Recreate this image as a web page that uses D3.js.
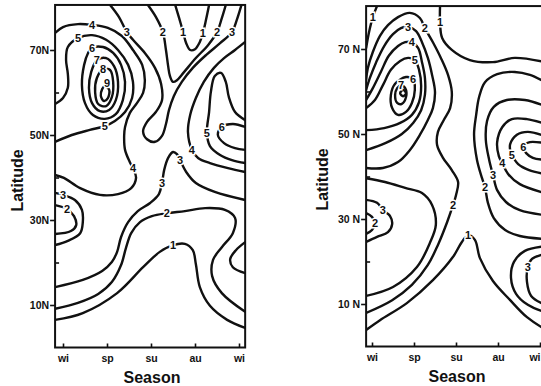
<!DOCTYPE html>
<html>
<head>
<meta charset="utf-8">
<script src="https://cdn.jsdelivr.net/npm/d3@7"></script>
<style>
  body { margin: 0; background: #fff; }
  svg { display: block; font-family: "Liberation Sans", Arial, sans-serif; }
</style>
</head>
<body>
<svg id="chart" width="541" height="386"></svg>
<script>
// axis categories / ticks
const seasons = ['wi', 'sp', 'su', 'au', 'wi'];
const latMajor = [10, 30, 50, 70];
const latMinor = [20, 40, 60];

// contour lines: points are [season (wi=0 .. wi=4), latitude]
const leftContours = [
  {v: 4, pts: [[-0.18,74.0],[0,75.4],[0.34,76.1],[0.66,75.9],[1.02,75.2],[1.34,73.3],[1.59,70.0],[1.80,66.5],[1.86,62.9],[1.82,59.9],[1.68,57.5],[1.52,55.2],[1.41,51.9],[1.39,49.8],[1.41,46.5],[1.52,43.6],[1.59,42.2],[1.66,39.9],[1.55,37.5],[1.25,36.1],[0.84,35.9],[0.39,37.5],[0.02,39.9],[-0.18,40.6]]},
  {v: 5, pts: [[-0.18,57.3],[0,58.7],[0.11,61.1],[0.11,64.4],[0.07,67.6],[0.11,70.7],[0.34,72.8],[0.66,73.5],[0.98,72.4],[1.25,70.0],[1.48,66.5],[1.59,62.5],[1.57,58.7],[1.41,55.4],[1.18,53.3],[0.95,52.1],[0.61,51.2],[0.20,50.0],[-0.18,48.4]]},
  {v: 6, closed: true, pts: [[0.66,70.5],[0.91,70.7],[1.14,69.3],[1.32,66.5],[1.41,62.5],[1.36,58.2],[1.20,54.9],[0.95,53.8],[0.68,54.7],[0.50,57.5],[0.43,61.8],[0.48,66.5],[0.57,69.3]]},
  {v: 7, closed: true, pts: [[0.77,67.6],[0.98,68.1],[1.16,66.2],[1.25,62.5],[1.20,58.2],[1.05,55.9],[0.84,55.6],[0.66,57.5],[0.59,61.1],[0.64,64.8]]},
  {v: 8, closed: true, pts: [[0.91,65.5],[1.07,65.3],[1.14,62.5],[1.11,58.9],[0.98,56.8],[0.80,57.3],[0.73,60.1],[0.77,63.4]]},
  {v: 9, closed: true, pts: [[0.95,61.5],[1.05,60.6],[1.02,58.7],[0.93,58.0],[0.86,59.2],[0.89,60.8]]},
  {v: 3, pts: [[1.07,80.6],[1.27,77.8],[1.45,74.2],[1.59,72.4],[1.86,69.3],[2.09,65.8],[2.23,62.0],[2.25,58.2],[2.11,55.4],[1.91,53.1],[1.82,50.9],[1.91,49.0],[2.09,48.4],[2.25,49.8],[2.34,52.6],[2.41,55.9],[2.52,59.2],[2.70,62.5],[2.95,65.8],[3.25,68.8],[3.57,71.6],[3.84,74.2],[3.95,77.1],[4.05,80.4]]},
  {v: 2, pts: [[1.93,80.6],[2.11,77.8],[2.27,74.2],[2.34,70.0],[2.39,66.2],[2.43,63.9],[2.50,62.5],[2.59,62.9],[2.75,64.8],[3.02,68.1],[3.30,71.2],[3.50,74.2],[3.61,77.5],[3.70,80.6]]},
  {v: 1, pts: [[2.55,80.6],[2.64,77.5],[2.73,74.2],[2.80,71.6],[2.89,70.0],[3.00,70.2],[3.11,71.9],[3.18,74.0],[3.25,77.1],[3.32,80.6]]},
  {v: 4, pts: [[4.14,71.9],[3.91,70.0],[3.66,68.1],[3.43,65.8],[3.20,62.5],[3.02,58.7],[2.89,54.7],[2.84,50.7],[2.93,46.5],[3.07,44.6],[3.34,43.4],[3.75,42.2],[4.14,41.3]]},
  {v: 5, pts: [[4.14,53.5],[3.91,55.4],[3.77,58.9],[3.70,62.5],[3.59,64.6],[3.45,63.9],[3.36,60.1],[3.32,55.4],[3.27,50.5],[3.34,47.4],[3.57,45.3],[3.84,44.1],[4.14,43.4]]},
  {v: 6, pts: [[4.14,51.9],[3.86,52.6],[3.61,51.9],[3.52,50.0],[3.66,48.1],[3.91,46.9],[4.14,46.5]]},
  {v: 3, pts: [[-0.18,14.2],[0.45,15.9],[0.89,18.0],[1.11,20.1],[1.23,22.5],[1.32,26.0],[1.48,29.5],[1.70,32.1],[1.98,34.0],[2.18,36.1],[2.25,38.7],[2.30,41.8],[2.39,44.6],[2.50,46.0],[2.59,45.5],[2.66,44.1],[2.80,41.3],[3.02,38.7],[3.45,36.6],[4.14,34.7]]},
  {v: 2, pts: [[-0.18,9.1],[0.34,10.5],[0.80,12.6],[1.11,15.4],[1.32,19.4],[1.43,23.4],[1.55,26.9],[1.75,29.5],[2.02,30.9],[2.36,31.6],[2.77,32.1],[3.23,32.8],[3.68,32.4],[3.91,30.5],[3.86,26.9],[3.61,23.6],[3.41,20.6],[3.39,16.8],[3.61,12.8],[4.14,8.4]]},
  {v: 1, pts: [[-0.18,6.5],[0.45,8.1],[1.23,12.8],[1.82,18.9],[2.20,22.5],[2.50,24.1],[2.77,24.4],[2.95,22.9],[3.02,19.6],[3.11,14.2],[3.34,9.8],[3.73,6.5],[4.14,4.6]]},
  {v: 3, pts: [[4.14,24.8],[3.93,22.9],[3.80,20.8],[3.86,18.9],[4.14,17.5]]},
  {v: 3, pts: [[-0.18,36.4],[0,35.9],[0.27,34.7],[0.43,32.4],[0.45,29.5],[0.39,26.9],[0.11,25.1],[-0.18,24.1]]},
  {v: 2, pts: [[-0.18,33.5],[0.09,32.6],[0.25,30.9],[0.30,28.8],[0.18,27.4],[-0.18,26.7]]}
];

const leftLabels = [
  [0.66,75.9,'4'],[1.59,42.2,'4'],[0.34,72.8,'5'],[0.95,52.1,'5'],[0.66,70.5,'6'],[0.77,67.6,'7'],
  [0.91,65.5,'8'],[1.00,62.2,'9'],[1.45,74.2,'3'],[2.27,74.2,'2'],[2.73,74.2,'1'],[3.18,74.0,'1'],
  [3.50,74.2,'2'],[3.84,74.2,'3'],[2.93,46.5,'4'],[3.27,50.5,'5'],[3.61,51.9,'6'],[2.25,38.7,'3'],
  [2.66,44.1,'3'],[2.36,31.6,'2'],[2.50,24.1,'1'],[0.00,35.9,'3'],[0.09,32.6,'2']
];

const rightContours = [
  {v: 1, pts: [[1.62,80.1],[1.62,76.4],[1.67,72.6],[1.90,69.8],[2.33,67.4],[2.88,66.9],[3.40,67.9],[4.12,66.9]]},
  {v: 1, pts: [[0.12,80.1],[0.02,77.5],[-0.07,74.0],[-0.14,70.2]]},
  {v: 2, pts: [[-0.14,62.7],[-0.10,65.5],[0.02,69.3],[0.19,73.1],[0.38,75.6],[0.62,77.5],[0.90,78.5],[1.14,77.3],[1.26,74.9],[1.45,71.6],[1.64,67.9],[1.81,63.9],[1.90,59.9],[1.86,56.1],[1.71,53.3],[1.57,50.5],[1.55,47.4],[1.69,44.4],[1.90,41.5],[2.05,38.7],[2.00,35.6],[1.93,33.3],[1.79,29.3],[1.57,23.9],[1.33,19.2],[0.95,14.5],[0.48,10.9],[-0.14,7.9]]},
  {v: 3, pts: [[-0.14,60.4],[-0.05,63.2],[0.10,66.9],[0.29,70.7],[0.50,73.5],[0.69,74.9],[0.86,75.2],[1.05,74.2],[1.19,71.6],[1.33,67.9],[1.43,63.9],[1.50,59.9],[1.45,56.1],[1.33,53.3],[1.14,49.8],[0.90,46.2],[0.62,43.4],[0.26,42.0],[-0.14,42.0]]},
  {v: 4, pts: [[-0.14,58.0],[0.02,60.8],[0.21,64.6],[0.40,68.4],[0.62,70.7],[0.79,71.6],[0.95,71.6],[1.10,70.2],[1.19,66.9],[1.26,63.2],[1.26,59.2],[1.17,55.6],[0.98,52.6],[0.71,50.0],[0.33,47.9],[-0.14,46.2]]},
  {v: 5, pts: [[-0.14,56.1],[0.07,58.0],[0.26,61.5],[0.45,65.1],[0.67,67.2],[0.86,67.9],[1.02,67.4],[1.12,65.1],[1.17,61.3],[1.12,57.5],[0.95,54.5],[0.67,52.6],[0.29,51.4],[-0.14,50.9]]},
  {v: 6, closed: true, pts: [[0.81,63.4],[0.98,62.9],[1.02,60.4],[0.95,57.3],[0.81,55.2],[0.62,54.5],[0.48,56.1],[0.45,59.2],[0.55,61.8]]},
  {v: 7, closed: true, pts: [[0.69,61.5],[0.79,60.8],[0.81,58.7],[0.71,57.1],[0.60,57.3],[0.55,59.2],[0.60,60.8]]},
  {v: 8, closed: true, pts: [[0.74,60.4],[0.81,59.6],[0.74,58.9],[0.67,59.6]]},
  {v: 3, pts: [[-0.14,39.6],[0.31,38.7],[0.79,37.3],[1.19,36.1],[1.43,33.3],[1.52,28.6],[1.38,24.4],[1.07,18.7],[0.50,14.0],[-0.14,11.9]]},
  {v: 3, pts: [[-0.14,34.5],[0.12,33.8],[0.26,32.1],[0.43,30.7],[0.48,28.8],[0.38,26.9],[0.12,25.8],[-0.14,24.6]]},
  {v: 2, pts: [[-0.14,31.4],[0.00,30.5],[0.07,29.1],[0.00,27.4],[-0.14,26.5]]},
  {v: 2, pts: [[4.12,62.2],[3.76,63.9],[3.40,64.6],[2.98,64.1],[2.69,62.2],[2.55,58.7],[2.48,54.5],[2.43,49.8],[2.50,43.9],[2.62,39.6],[2.69,37.5],[2.76,33.8],[2.90,30.2],[3.17,27.4],[3.52,26.0],[4.12,25.3]]},
  {v: 3, pts: [[4.12,56.6],[3.64,58.0],[3.21,58.0],[2.90,56.4],[2.74,53.1],[2.71,48.6],[2.79,43.9],[2.88,40.4],[2.98,36.8],[3.19,34.0],[3.52,32.1],[4.12,30.9]]},
  {v: 4, pts: [[4.12,52.4],[3.69,53.5],[3.33,53.5],[3.10,51.6],[2.98,48.1],[3.02,44.8],[3.10,43.2],[3.24,40.6],[3.52,38.2],[4.12,36.1]]},
  {v: 5, pts: [[4.12,49.5],[3.71,50.5],[3.45,49.8],[3.29,47.6],[3.29,46.2],[3.33,45.1],[3.48,42.9],[3.74,41.5],[4.12,40.6]]},
  {v: 6, pts: [[4.12,47.9],[3.76,48.1],[3.64,47.6],[3.60,46.9],[3.67,45.5],[3.83,44.4],[4.12,43.9]]},
  {v: 2, pts: [[4.12,23.6],[3.64,22.5],[3.38,19.9],[3.31,16.1],[3.43,12.4],[3.71,9.8],[4.12,8.1]]},
  {v: 3, pts: [[4.12,21.8],[3.81,20.6],[3.71,18.7],[3.69,15.2],[3.79,11.9],[4.12,9.8]]},
  {v: 1, pts: [[-0.14,3.9],[0.19,6.2],[0.83,10.2],[1.45,15.6],[1.93,21.1],[2.14,24.6],[2.29,26.2],[2.45,25.1],[2.57,20.8],[2.88,15.4],[3.29,10.9],[3.69,6.9],[4.12,4.1]]}
];

const rightLabels = [
  [0.02,77.5,'1'],[1.62,76.4,'1'],[0.86,75.2,'3'],[1.26,74.9,'2'],[0.95,71.6,'4'],[1.02,67.4,'5'],
  [0.98,62.9,'6'],[0.69,61.5,'7'],[1.93,33.3,'2'],[2.29,26.2,'1'],[2.69,37.5,'2'],[2.88,40.4,'3'],
  [3.10,43.2,'4'],[3.33,45.1,'5'],[3.60,46.9,'6'],[3.71,18.7,'3'],[0.26,32.1,'3'],[0.07,29.1,'2']
];

class ContourPanel {

  constructor(_config, _lines, _labels) {
    this.config = {
      svg: _config.svg,
      id: _config.id,
      xRange: _config.xRange,
      yRange: _config.yRange,
      sExtent: _config.sExtent,
      latTop: _config.latTop,
      tickSep: _config.tickSep || '',
      titleOffset: _config.titleOffset || 38,
      canvasWidth: _config.canvasWidth || 541
    };
    this.lines = _lines;
    this.labels = _labels;
    this.initVis();
  }

  initVis() {
    let vis = this;

    vis.xScale = d3.scaleLinear().domain([0, 4]).range(vis.config.xRange);
    vis.yScale = d3.scaleLinear().domain([0, 80]).range(vis.config.yRange);

    vis.x0 = vis.xScale(vis.config.sExtent[0]);
    vis.x1 = vis.xScale(vis.config.sExtent[1]);
    vis.yB = vis.yScale(0);
    vis.yT = vis.yScale(vis.config.latTop);

    vis.g = vis.config.svg.append('g');

    vis.g.append('clipPath')
      .attr('id', 'clip-' + vis.config.id)
      .append('rect')
      .attr('x', vis.x0).attr('y', vis.yT)
      .attr('width', vis.x1 - vis.x0).attr('height', vis.yB - vis.yT);

    // axes
    vis.yAxis = d3.axisLeft(vis.yScale)
      .tickValues(latMajor)
      .tickSize(5)
      .tickPadding(1)
      .tickFormat(d => d + vis.config.tickSep + 'N');
    vis.yMinor = d3.axisLeft(vis.yScale).tickValues(latMinor).tickSize(-4).tickFormat('');
    vis.xAxis = d3.axisBottom(vis.xScale)
      .tickValues([0, 1, 2, 3, 4])
      .tickSize(-4)
      .tickPadding(7)
      .tickFormat((d, i) => seasons[i]);

    vis.g.append('g').attr('class', 'axis')
      .attr('transform', `translate(${vis.x0},0)`)
      .call(vis.yAxis);
    vis.g.append('g').attr('class', 'axis')
      .attr('transform', `translate(${vis.x0},0)`)
      .call(vis.yMinor);
    vis.xAxisGroup = vis.g.append('g').attr('class', 'axis')
      .attr('transform', `translate(0,${vis.yB})`)
      .call(vis.xAxis);

    vis.g.selectAll('.axis .domain').remove();
    vis.g.selectAll('.axis line').attr('stroke', '#111').attr('stroke-width', 1.6);
    vis.g.selectAll('.axis text')
      .attr('fill', '#111')
      .style('font-size', '10.5px')
      .style('font-weight', 'bold');

    // keep a season label that would run past the page edge inside it
    vis.xAxisGroup.selectAll('.tick text')
      .filter(d => vis.xScale(d) + 6 > vis.config.canvasWidth)
      .attr('text-anchor', 'end')
      .attr('x', d => vis.config.canvasWidth - 1 - vis.xScale(d));

    vis.g.append('text')
      .attr('transform', `translate(${vis.x0 - vis.config.titleOffset},${vis.yScale(40) + 3}) rotate(-90)`)
      .attr('text-anchor', 'middle')
      .attr('dy', '0.35em')
      .style('font-size', '16px').style('font-weight', 'bold').attr('fill', '#111')
      .text('Latitude');

    vis.g.append('text')
      .attr('x', vis.xScale(2) + 1)
      .attr('y', vis.yB + 35)
      .attr('text-anchor', 'middle')
      .style('font-size', '16px').style('font-weight', 'bold').attr('fill', '#111')
      .text('Season');

    vis.renderVis();
  }

  renderVis() {
    let vis = this;

    const open = d3.line()
      .x(d => vis.xScale(d[0])).y(d => vis.yScale(d[1]))
      .curve(d3.curveCatmullRom.alpha(0.5));
    const closed = d3.line()
      .x(d => vis.xScale(d[0])).y(d => vis.yScale(d[1]))
      .curve(d3.curveCatmullRomClosed.alpha(0.5));

    vis.g.append('g')
      .attr('clip-path', `url(#clip-${vis.config.id})`)
      .selectAll('path')
      .data(vis.lines)
      .join('path')
      .attr('d', d => d.closed ? closed(d.pts) : open(d.pts))
      .attr('fill', 'none')
      .attr('stroke', '#111')
      .attr('stroke-width', 2.4)
      .attr('stroke-linecap', 'round')
      .attr('stroke-linejoin', 'round');

    vis.g.append('g')
      .selectAll('text')
      .data(vis.labels)
      .join('text')
      .attr('x', d => vis.xScale(d[0]))
      .attr('y', d => vis.yScale(d[1]))
      .attr('dy', '0.36em')
      .attr('text-anchor', 'middle')
      .style('font-size', '11px')
      .style('font-weight', 'bold')
      .attr('fill', '#111')
      .attr('stroke', '#fff')
      .attr('stroke-width', 3)
      .attr('paint-order', 'stroke')
      .text(d => d[2]);

    vis.g.append('rect')
      .attr('x', vis.x0).attr('y', vis.yT)
      .attr('width', vis.x1 - vis.x0).attr('height', vis.yB - vis.yT)
      .attr('fill', 'none')
      .attr('stroke', '#111')
      .attr('stroke-width', 2);
  }
}

const svg = d3.select('#chart');

new ContourPanel({
  svg: svg, id: 'left',
  xRange: [63, 239], yRange: [347.5, 7.5],
  sExtent: [-0.18, 4.14], latTop: 80.6,
  titleOffset: 38
}, leftContours, leftLabels);

new ContourPanel({
  svg: svg, id: 'right',
  xRange: [372, 540], yRange: [346.5, 6.5],
  sExtent: [-0.14, 4.12], latTop: 80.1,
  tickSep: ' ', titleOffset: 44
}, rightContours, rightLabels);
</script>
</body>
</html>
